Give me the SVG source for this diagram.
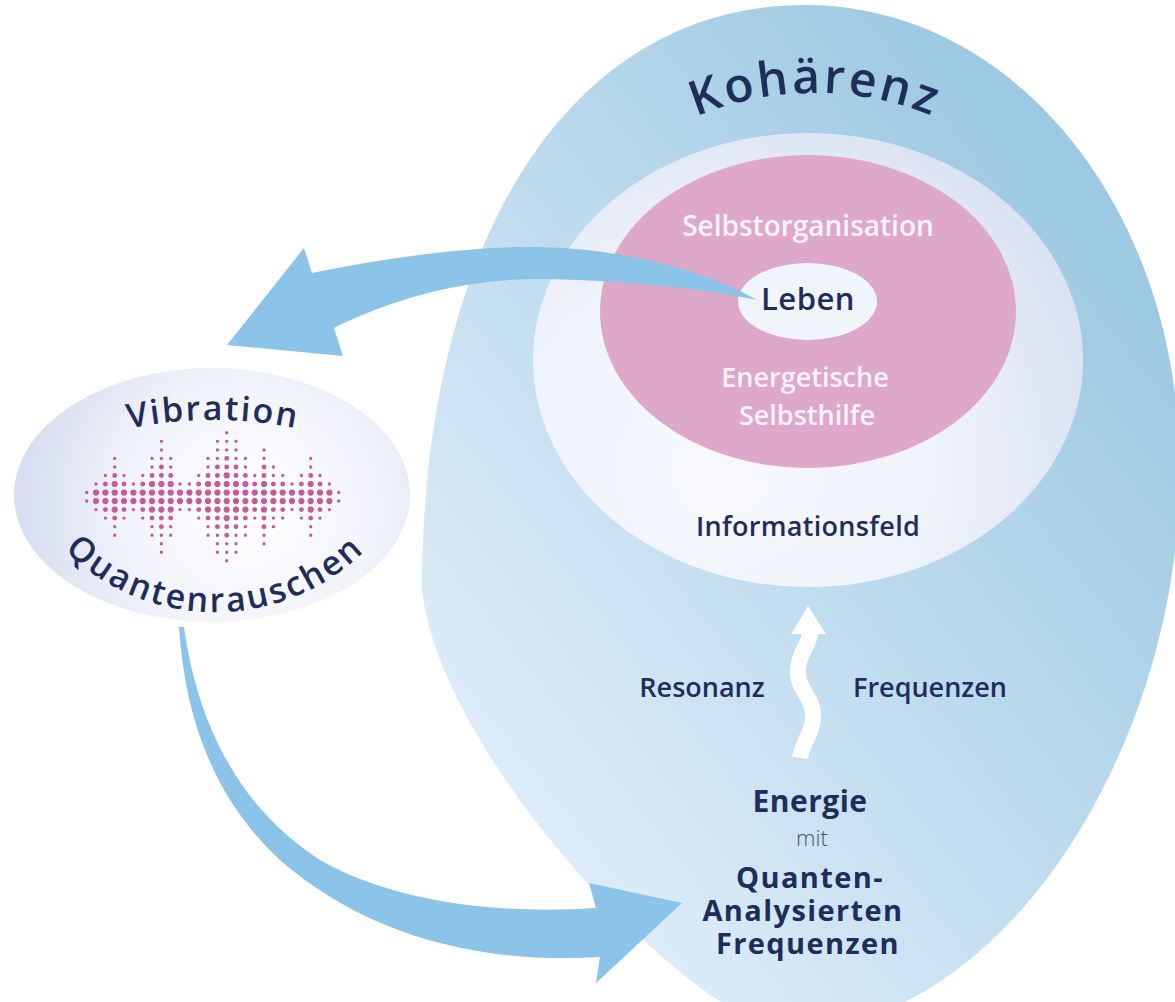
<svg xmlns="http://www.w3.org/2000/svg" width="1175" height="1002" viewBox="0 0 1175 1002">
<defs>
<style>
text{font-family:"Open Sans","Noto Sans","DejaVu Sans",sans-serif;}
.navy{fill:#1f2d5a;}
.sb{font-weight:600;}
.bd{font-weight:700;}
.wt{fill:#fbf3f8;}
.arrow{fill:#8cc3e8;}
.dots path{fill:none;stroke:#c8599b;stroke-linecap:round;stroke-dasharray:0 8.53;}
.da{stroke-width:3.4;}
.db{stroke-width:4.9;}
.dc{stroke-width:6.2;}
</style>
<linearGradient id="gOuter" gradientUnits="userSpaceOnUse" x1="450" y1="900" x2="1175" y2="330">
<stop offset="0" stop-color="#e7f1fb"/>
<stop offset="0.45" stop-color="#c5dff1"/>
<stop offset="1" stop-color="#9dc9e2"/>
</linearGradient>
<radialGradient id="gInfo" gradientUnits="userSpaceOnUse" cx="720" cy="470" r="400">
<stop offset="0" stop-color="#f7f9fe"/>
<stop offset="0.55" stop-color="#eef2fa"/>
<stop offset="1" stop-color="#d9e2f2"/>
</radialGradient>
<radialGradient id="gVib" gradientUnits="userSpaceOnUse" cx="250" cy="510" r="230">
<stop offset="0" stop-color="#ffffff"/>
<stop offset="0.55" stop-color="#f2f4fb"/>
<stop offset="1" stop-color="#d7deef"/>
</radialGradient>
<path id="arcKoh" d="M509.7,349.2 A310,310 0 0,1 1120.3,349.2"/>
<path id="arcVib" d="M-57,518.3 A420,420 0 0,1 483,518.3"/>
<path id="arcQua" d="M5.2,436 A213,213 0 0,0 424.8,436"/>
</defs>

<g id="koharenz">
<path d="M805,5 C1015,5 1180,210 1180,470 C1180,750 1000,1030 790,1030 C700,1030 440,760 422,590 C422,240 570,5 805,5 Z" fill="url(#gOuter)"/>
<text class="navy sb" font-size="48" letter-spacing="3"><textPath href="#arcKoh" startOffset="50%" text-anchor="middle">Kohärenz</textPath></text>
</g>

<g id="informationsfeld">
<ellipse cx="808" cy="360" rx="275" ry="227" fill="url(#gInfo)"/>
<text class="navy sb" x="808" y="536" font-size="27" text-anchor="middle" letter-spacing="0.3">Informationsfeld</text>
</g>

<g id="selbstorganisation">
<ellipse cx="808" cy="311.5" rx="208" ry="156.5" fill="#dea8ca"/>
<text class="wt sb" x="808" y="236" font-size="28" text-anchor="middle">Selbstorganisation</text>
</g>

<g id="energetische-selbsthilfe">
<text class="wt sb" x="805" y="387" font-size="27" text-anchor="middle">Energetische</text>
<text class="wt sb" x="807" y="425" font-size="27" text-anchor="middle">Selbsthilfe</text>
</g>

<g id="leben">
<ellipse cx="807.5" cy="301.5" rx="69.5" ry="38.5" fill="#f0f4fb"/>
</g>

<g id="vibration">
<ellipse cx="212" cy="495" rx="198" ry="127" fill="url(#gVib)"/>
<text class="navy sb" font-size="34" letter-spacing="2"><textPath href="#arcVib" startOffset="50%" text-anchor="middle">Vibration</textPath></text>
<text class="navy sb" font-size="34" letter-spacing="2.5"><textPath href="#arcQua" startOffset="50%" text-anchor="middle">Quantenrauschen</textPath></text>
<g class="dots">
<path class="da" d="M86.7 492.53V501.27M96 484V509.8M105.4 475.47V518.33M114.7 458.41V535.39M124 475.47V518.33M133.4 484V509.8M142.7 475.47V518.33M152 458.41V535.39M161.4 441.35V552.45M170.7 458.41V535.39M180 484V509.8M189.4 484V509.8M198.7 475.47V518.33M208 458.41V535.39M217.4 441.35V552.45M226.7 432.82V560.98M236 441.35V552.45M245.4 458.41V535.39M254.7 475.47V518.33M264 449.88V543.92M273.4 466.94V526.86M282.7 475.47V518.33M292 484V509.8M301.4 475.47V518.33M310.7 458.41V535.39M320 475.47V518.33M329.4 484V509.8M338.7 492.53V501.27"/>
<path class="db" d="M96 492.53V501.27M105.4 484V509.8M114.7 475.47V518.33M124 484V509.8M133.4 492.53V501.27M142.7 484V509.8M152 475.47V518.33M161.4 466.94V526.86M170.7 475.47V518.33M180 492.53V501.27M189.4 492.53V501.27M198.7 484V509.8M208 475.47V518.33M217.4 466.94V526.86M226.7 458.41V535.39M236 466.94V526.86M245.4 475.47V518.33M254.7 484V509.8M264 466.94V526.86M273.4 484V509.8M282.7 484V509.8M292 492.53V501.27M301.4 484V509.8M310.7 475.47V518.33M320 484V509.8M329.4 492.53V501.27"/>
<path class="dc" d="M96 492.53V501.27M105.4 492.53V501.27M114.7 484V509.8M124 492.53V501.27M133.4 492.53V501.27M142.7 492.53V501.27M152 484V509.8M161.4 484V509.8M170.7 484V509.8M180 492.53V501.27M189.4 492.53V501.27M198.7 492.53V501.27M208 484V509.8M217.4 484V509.8M226.7 475.47V518.33M236 484V509.8M245.4 484V509.8M254.7 492.53V501.27M264 484V509.8M273.4 492.53V501.27M282.7 492.53V501.27M292 492.53V501.27M301.4 492.53V501.27M310.7 484V509.8M320 492.53V501.27M329.4 492.53V501.27"/>
</g>
</g>

<g id="connectors">
<path id="arrow-leben-vibration" class="arrow" d="M227,345 L304,248 L312,273 C400,255 480,246 540,247 C620,249 700,268 757,300 C700,288 620,280 540,279 C470,279 400,295 334,328 L343,356 Z"/>
<path id="arrow-vibration-energie" class="arrow" d="M179,627 C185,720 215,800 280,860 C360,930 470,965 600,957 L596,983 L682,903 L589,883 L596,908 C490,915 390,900 320,860 C250,815 200,740 184,627 Z"/>
<g id="arrow-energie-info">
<path d="M800,758 C803,740 815,730 813,712 C811,695 796,688 798,668 C800,650 810,645 810,632" fill="none" stroke="#ffffff" stroke-width="16"/>
<polygon points="808,606 791,634 826,634" fill="#ffffff"/>
</g>
</g>

<g id="leben-label">
<text class="navy sb" x="808" y="310" font-size="31" text-anchor="middle" letter-spacing="0.5">Leben</text>
</g>

<g id="labels">
<text class="navy sb" x="702" y="697" font-size="27" text-anchor="middle">Resonanz</text>
<text class="navy sb" x="930" y="697" font-size="27" text-anchor="middle">Frequenzen</text>
</g>

<g id="energie">
<text class="navy bd" x="810" y="812" font-size="30" text-anchor="middle" letter-spacing="0.5">Energie</text>
<text x="812" y="846" font-size="22" font-weight="300" fill="#46527a" text-anchor="middle">mit</text>
<text class="navy bd" x="810" y="888" font-size="29" text-anchor="middle" letter-spacing="1.4">Quanten-</text>
<text class="navy bd" x="803" y="921" font-size="29" text-anchor="middle" letter-spacing="1.4">Analysierten</text>
<text class="navy bd" x="808" y="954" font-size="29" text-anchor="middle" letter-spacing="1.4">Frequenzen</text>
</g>
</svg>
